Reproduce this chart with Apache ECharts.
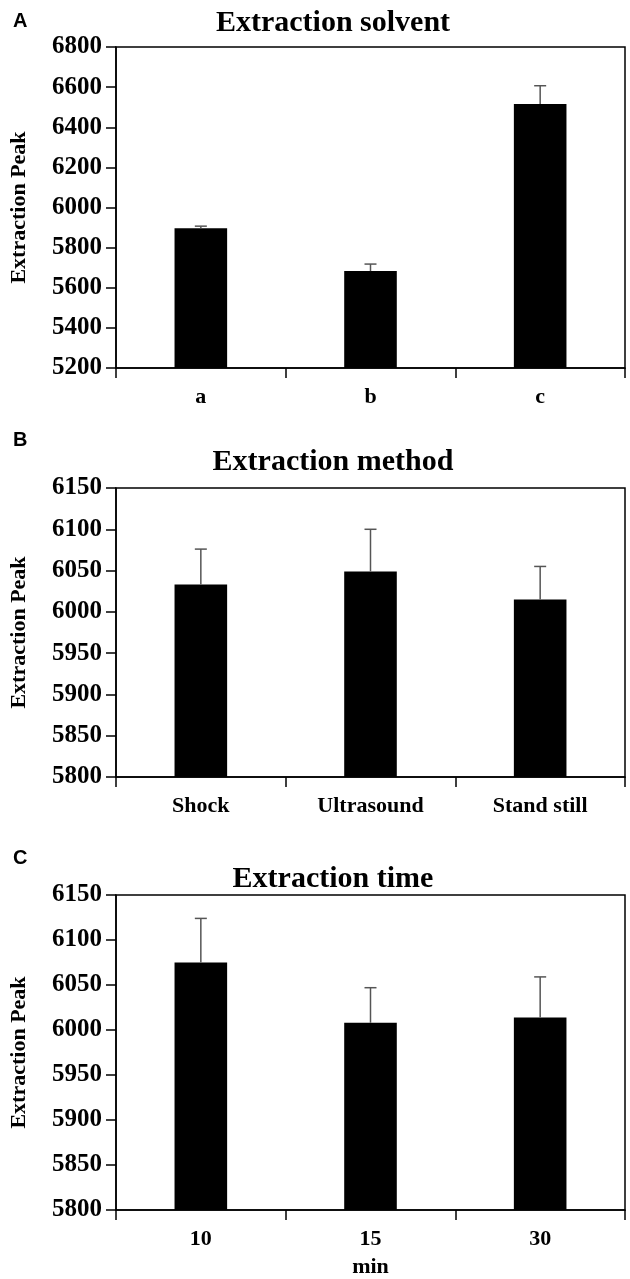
<!DOCTYPE html>
<html>
<head>
<meta charset="utf-8">
<script src="https://cdn.jsdelivr.net/npm/echarts@6/dist/echarts.min.js"></script>
<style>
html,body{margin:0;padding:0;background:#fff;}
#chart{width:630px;height:1279px;}
</style>
</head>
<body>
<div id="chart"></div>
<script>
// ---- data ----
const solventCategories = ['a', 'b', 'c'];
const solventValues = [5897, 5683, 6516];
const solventErrors = [10, 35, 91];
const solventTicks = {min: 5200, max: 6800, interval: 200};

const methodCategories = ['Shock', 'Ultrasound', 'Stand still'];
const methodValues = [6033, 6049, 6015];
const methodErrors = [43, 51, 40];
const methodTicks = {min: 5800, max: 6150, interval: 50};

const timeCategories = ['10', '15', '30'];
const timeValues = [6075, 6008, 6014];
const timeErrors = [49, 39, 45];
const timeTicks = {min: 5800, max: 6150, interval: 50};

const panelTitles = ['Extraction solvent', 'Extraction method', 'Extraction time'];
const panelLetters = ['A', 'B', 'C'];
const yAxisName = 'Extraction Peak';
const timeUnit = 'min';

// ---- layout ----
const serif = '"Liberation Serif", "Times New Roman", serif';
const grids = [
  {left: 116, right: 5, top: 47, height: 321},
  {left: 116, right: 5, top: 488, height: 289},
  {left: 116, right: 5, top: 895, height: 323}
];
const titleTops = [3, 442, 859];
const letterTops = [6, 425, 843];

const panels = [
  {cats: solventCategories, vals: solventValues, errs: solventErrors, ticks: solventTicks},
  {cats: methodCategories, vals: methodValues, errs: methodErrors, ticks: methodTicks},
  {cats: timeCategories, vals: timeValues, errs: timeErrors, ticks: timeTicks}
];

const option = {
  backgroundColor: '#fff',
  animation: false,
  title: [],
  grid: [],
  xAxis: [],
  yAxis: [],
  series: []
};

panels.forEach((p, i) => {
  option.title.push({
    text: panelTitles[i], left: 328, textAlign: 'center', top: titleTops[i],
    textStyle: {fontFamily: serif, fontWeight: 'bold', fontSize: 30, color: '#000'}
  });
  option.title.push({
    text: panelLetters[i], left: 8, top: letterTops[i],
    textStyle: {fontFamily: '"Liberation Sans", Arial, sans-serif', fontWeight: 'bold', fontSize: 20, color: '#000'}
  });
  option.grid.push(Object.assign({show: true, borderColor: '#000', borderWidth: 1.5, backgroundColor: 'transparent'}, grids[i]));
  option.xAxis.push({
    type: 'category', gridIndex: i, data: p.cats,
    name: i === 2 ? timeUnit : '', nameLocation: 'middle', nameGap: 46,
    nameTextStyle: {fontFamily: serif, fontWeight: 'bold', fontSize: 22, color: '#000'},
    axisLine: {lineStyle: {color: '#000', width: 1.5}},
    axisTick: {show: true, alignWithLabel: false, length: 10, inside: false, lineStyle: {color: '#000', width: 1.5}},
    axisLabel: {fontFamily: serif, fontWeight: 'bold', fontSize: 22, color: '#000', margin: 18},
    splitLine: {show: false}
  });
  option.yAxis.push({
    type: 'value', gridIndex: i,
    min: p.ticks.min, max: p.ticks.max, interval: p.ticks.interval,
    name: yAxisName, nameLocation: 'middle', nameGap: 86, nameRotate: 90,
    nameTextStyle: {fontFamily: serif, fontWeight: 'bold', fontSize: 22, color: '#000'},
    axisLine: {show: true, lineStyle: {color: '#000', width: 1.5}},
    axisTick: {show: true, length: 10, lineStyle: {color: '#000', width: 1.5}},
    axisLabel: {fontFamily: serif, fontWeight: 'bold', fontSize: 25, color: '#000', margin: 14,
      formatter: v => String(v)},
    splitLine: {show: false}
  });
  option.series.push({
    type: 'bar', xAxisIndex: i, yAxisIndex: i,
    data: p.vals, barWidth: '31%',
    itemStyle: {color: '#000'},
    z: 2
  });
  option.series.push({
    type: 'custom', xAxisIndex: i, yAxisIndex: i,
    data: p.vals.map((v, k) => [k, v, p.errs[k]]),
    z: 3,
    renderItem: function (params, api) {
      const idx = api.value(0), v = api.value(1), e = api.value(2);
      const base = api.coord([idx, v]);
      const top = api.coord([idx, v + e]);
      const half = 6;
      const st = {stroke: '#555', lineWidth: 1.5};
      return {
        type: 'group',
        children: [
          {type: 'line', shape: {x1: base[0], y1: base[1], x2: top[0], y2: top[1]}, style: st},
          {type: 'line', shape: {x1: top[0] - half, y1: top[1], x2: top[0] + half, y2: top[1]}, style: st}
        ]
      };
    }
  });
});

const chart = echarts.init(document.getElementById('chart'), null, {renderer: 'canvas'});
chart.setOption(option);
</script>
</body>
</html>
